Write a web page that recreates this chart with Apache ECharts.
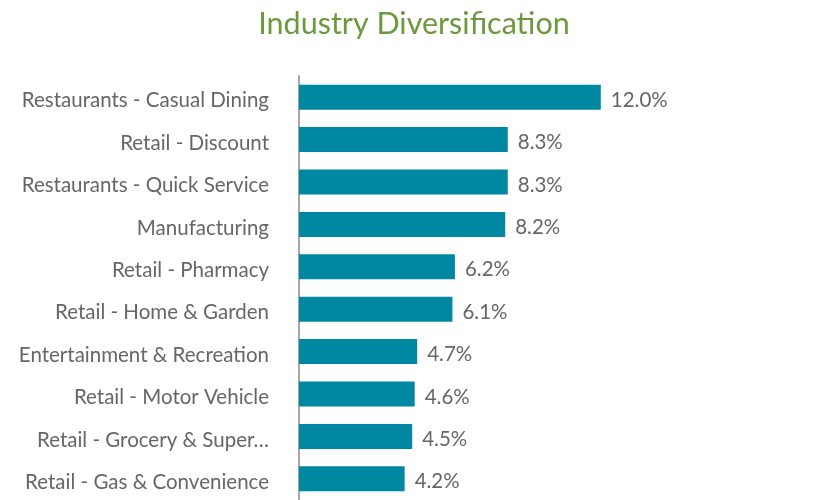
<!DOCTYPE html>
<html>
<head>
<meta charset="utf-8">
<script src="https://cdn.jsdelivr.net/npm/echarts@6/dist/echarts.min.js"></script>
<style>html,body{margin:0;padding:0;background:#fff}#c{width:828px;height:500px}</style>
</head>
<body>
<div id="c"></div>
<script>
const categories = ["Restaurants - Casual Dining","Retail - Discount","Restaurants - Quick Service","Manufacturing","Retail - Pharmacy","Retail - Home & Garden","Entertainment & Recreation","Retail - Motor Vehicle","Retail - Grocery & Super…","Retail - Gas & Convenience"];
const values = [12.0, 8.3, 8.3, 8.2, 6.2, 6.1, 4.7, 4.6, 4.5, 4.2];

const chart = echarts.init(document.getElementById('c'));
chart.setOption({
  animation: false,
  title: {
    text: 'Industry Diversification',
    left: 'center',
    top: 4,
    textStyle: {color: '#6b9a3d', fontSize: 30.5, fontWeight: 'normal', fontFamily: 'Lato'}
  },
  grid: {left: 299, top: 76, width: 503, bottom: 0, containLabel: false},
  xAxis: {type: 'value', min: 0, max: 20, show: false},
  yAxis: {
    type: 'category', data: categories, inverse: true,
    axisLine: {show: true, lineStyle: {color: '#a6a6a6', width: 2}},
    axisTick: {show: false},
    axisLabel: {
      margin: 30,
      formatter: v => '{a|' + v + '}',
      rich: {a: {color: '#666', fontSize: 20.5, fontFamily: 'Lato', padding: [7, 0, 0, 0]}}
    }
  },
  series: [{
    type: 'bar', data: values, barWidth: 25,
    itemStyle: {color: '#0088a3'},
    label: {show: true, position: 'right', distance: 10, offset: [0, 3], color: '#666', fontSize: 20.5, fontFamily: 'Lato',
      formatter: p => p.value.toFixed(1) + '%'}
  }]
});
</script>
</body>
</html>
